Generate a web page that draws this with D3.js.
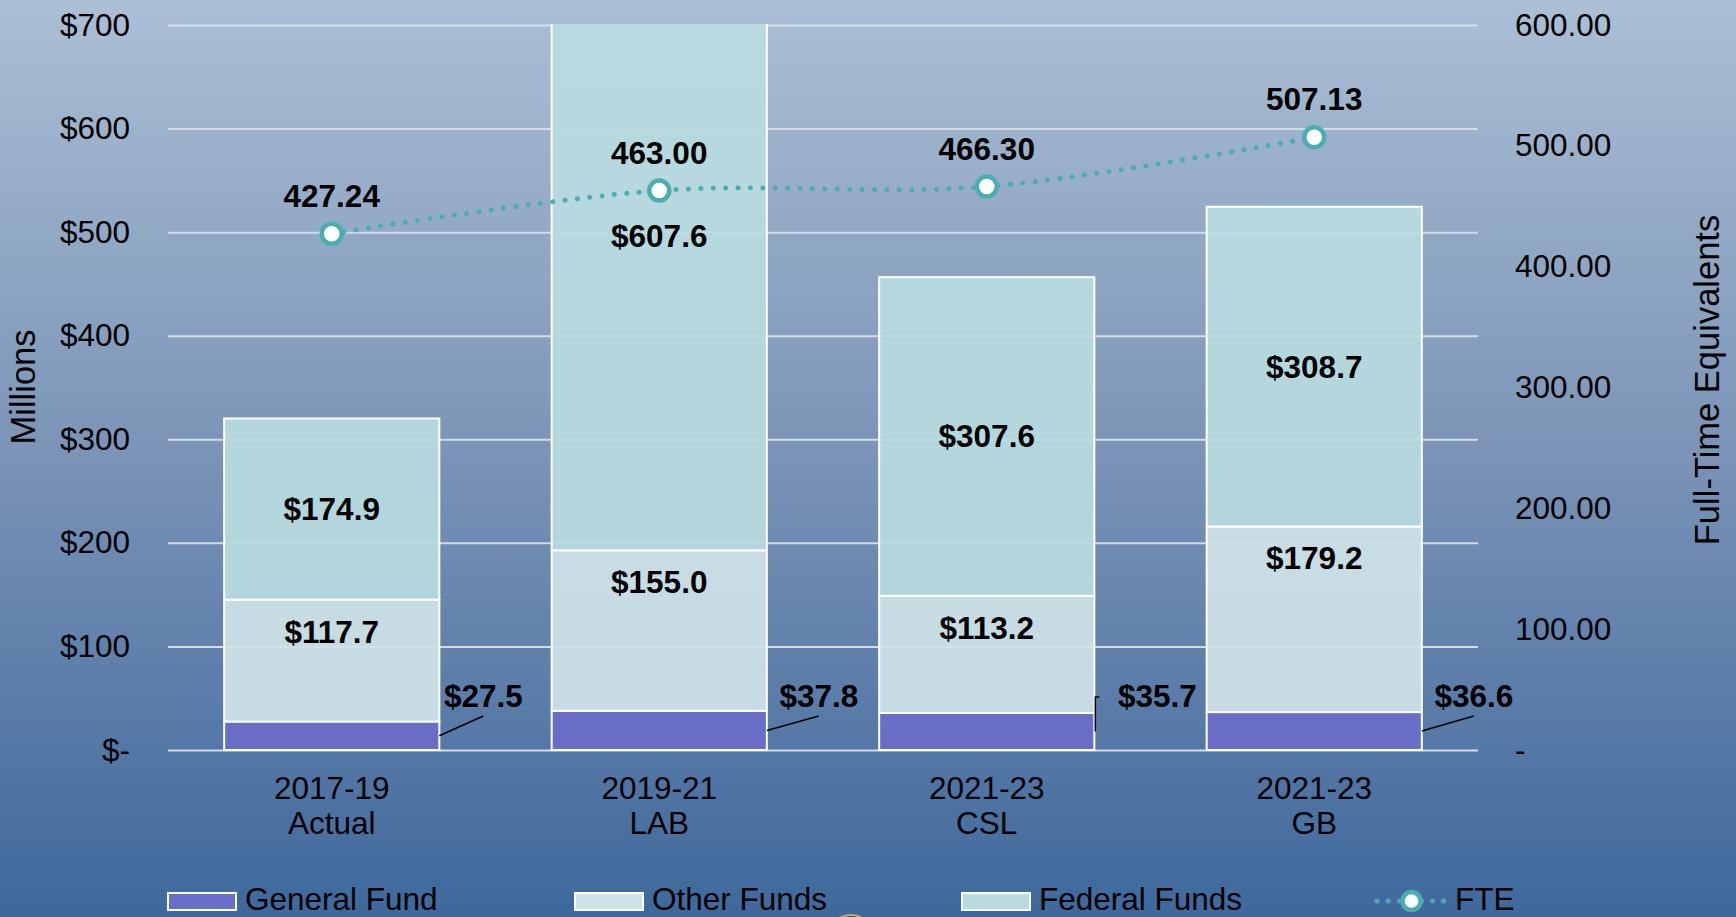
<!DOCTYPE html>
<html>
<head>
<meta charset="utf-8">
<script src="https://cdn.jsdelivr.net/npm/d3@7"></script>
<style>
  html, body { margin: 0; padding: 0; overflow: hidden; }
  svg { display: block; font-family: "Liberation Sans", Arial, sans-serif; }
</style>
</head>
<body>
<div id="chart"></div>
<script>
// data
var categories = ["2017-19|Actual", "2019-21|LAB", "2021-23|CSL", "2021-23|GB"];
var generalFund = [27.5, 37.8, 35.7, 36.6];
var otherFunds = [117.7, 155.0, 113.2, 179.2];
var federalFunds = [174.9, 607.6, 307.6, 308.7];
var fte = [427.24, 463.00, 466.30, 507.13];
var moneyTicks = [0, 100, 200, 300, 400, 500, 600, 700];
var fteTicks = [0, 100, 200, 300, 400, 500, 600];
var seriesNames = ["General Fund", "Other Funds", "Federal Funds"];

var W = 1736, H = 917;
var colors = { gf: "#6a6dc8", of: "#cfe2e7", ff: "#b8dbe0", fte: "#4aaeb1" };
var fs = 31.5;

var svg = d3.select('#chart').append('svg')
    .attr('width', W)
    .attr('height', H);

// background gradient
var defs = svg.append('defs');
var grad = defs.append('linearGradient')
    .attr('id', 'bg').attr('x1', 0).attr('y1', 0).attr('x2', 0).attr('y2', 1);
grad.append('stop').attr('offset', 0).attr('stop-color', '#abbfd5');
grad.append('stop').attr('offset', 0.5).attr('stop-color', '#7a93b6');
grad.append('stop').attr('offset', 1).attr('stop-color', '#3e689c');
svg.append('rect').attr('width', W).attr('height', H).attr('fill', 'url(#bg)');

// scales
var x = d3.scaleBand().domain(categories).range([168, 1478])
    .paddingInner(0.343).paddingOuter(0.1715);
var y = d3.scaleLinear().domain([0, 700]).range([750, 25]);
var y2 = d3.scaleLinear().domain([0, 600]).range([750, 25]);

defs.append('clipPath').attr('id', 'plot')
    .append('rect').attr('x', 0).attr('y', 24).attr('width', W).attr('height', 740);

// gridlines
var grid = svg.append('g').attr('transform', 'translate(168,0)')
    .call(d3.axisLeft(y).tickValues(moneyTicks).tickSize(-1310).tickFormat(''));
grid.select('.domain').remove();
grid.selectAll('line').attr('stroke', '#d6dbe2').attr('stroke-width', 2);

// left axis labels
var yAxis = svg.append('g').attr('transform', 'translate(168,0)')
    .call(d3.axisLeft(y).tickValues(moneyTicks).tickSize(0).tickPadding(38)
        .tickFormat(function (d) { return d === 0 ? '$-' : '$' + d; }));
yAxis.select('.domain').remove();
yAxis.selectAll('text').attr('font-size', fs).attr('fill', '#000')
    .attr('font-family', '"Liberation Sans", Arial, sans-serif');

// right axis labels
var yAxis2 = svg.append('g').attr('transform', 'translate(1478,0)')
    .call(d3.axisRight(y2).tickValues(fteTicks).tickSize(0).tickPadding(37)
        .tickFormat(function (d) { return d === 0 ? '-' : d3.format('.2f')(d); }));
yAxis2.select('.domain').remove();
yAxis2.selectAll('text').attr('font-size', fs).attr('fill', '#000')
    .attr('font-family', '"Liberation Sans", Arial, sans-serif');

// axis titles
svg.append('text')
    .attr('transform', 'translate(35,387) rotate(-90)')
    .attr('text-anchor', 'middle')
    .attr('font-size', 34.5)
    .text('Millions');
svg.append('text')
    .attr('transform', 'translate(1719,380) rotate(-90)')
    .attr('text-anchor', 'middle')
    .attr('font-size', 34.5)
    .text('Full-Time Equivalents');

// category labels
var xAxis = svg.append('g').attr('transform', 'translate(0,750)')
    .call(d3.axisBottom(x).tickSize(0).tickFormat(''));
xAxis.select('.domain').remove();
xAxis.selectAll('.tick').each(function (d) {
    var parts = d.split('|');
    var t = d3.select(this).append('text')
        .attr('text-anchor', 'middle')
        .attr('fill', '#000')
        .attr('font-size', fs)
        .attr('font-family', '"Liberation Sans", Arial, sans-serif');
    t.append('tspan').attr('x', 0).attr('y', 49).text(parts[0]);
    t.append('tspan').attr('x', 0).attr('y', 84).text(parts[1]);
});

// stacked bars
var rows = categories.map(function (c, i) {
    return { cat: c, gf: generalFund[i], of: otherFunds[i], ff: federalFunds[i] };
});
var stacked = d3.stack().keys(['gf', 'of', 'ff'])(rows);

var bars = svg.append('g').attr('clip-path', 'url(#plot)');
bars.selectAll('g').data(stacked).enter().append('g')
    .attr('fill', function (d) { return colors[d.key]; })
    .selectAll('rect').data(function (d) { return d; })
    .enter().append('rect')
    .attr('x', function (d) { return x(d.data.cat); })
    .attr('y', function (d) { return y(d[1]); })
    .attr('width', x.bandwidth())
    .attr('height', function (d) { return y(d[0]) - y(d[1]); })
    .attr('fill-opacity', 0.93)
    .attr('stroke', '#ffffff')
    .attr('stroke-width', 2);

// bar labels
var fmt = function (v) { return '$' + d3.format('.1f')(v); };
var labels = svg.append('g').attr('font-weight', 'bold').attr('font-size', fs)
    .attr('text-anchor', 'middle');

// federal funds - centred on the (unclipped) segment
labels.selectAll('.ffl').data(stacked[2]).enter().append('text')
    .attr('x', function (d) { return x(d.data.cat) + x.bandwidth() / 2; })
    .attr('y', function (d) { return (y(d[0]) + y(d[1])) / 2 + 11; })
    .text(function (d) { return fmt(d.data.ff); });

// other funds - inside end
labels.selectAll('.ofl').data(stacked[1]).enter().append('text')
    .attr('x', function (d) { return x(d.data.cat) + x.bandwidth() / 2; })
    .attr('y', function (d) { return y(d[1]) + 43; })
    .text(function (d) { return fmt(d.data.of); });

// general fund - outside with leader lines
var gfDx = [44, 52, 63, 52];
var leaders = svg.append('g').attr('stroke', '#000').attr('stroke-width', 1.5).attr('fill', 'none');
stacked[0].forEach(function (d, i) {
    var right = x(d.data.cat) + x.bandwidth();
    var mid = (y(d[0]) + y(d[1])) / 2;
    var cx = right + gfDx[i];
    if (i === 2) {
        leaders.append('path').attr('d', 'M' + (right + 1) + ',' + mid + 'V697H' + (right + 5));
    } else {
        leaders.append('path').attr('d', 'M' + right + ',' + mid + 'L' + cx + ',716');
    }
    labels.append('text').attr('x', cx).attr('y', 707).text(fmt(d.data.gf));
});

// FTE line
var fx = function (d, i) { return x(categories[i]) + x.bandwidth() / 2; };
svg.append('path')
    .attr('d', d3.line().x(fx).y(function (d) { return y2(d); })
        .curve(d3.curveCatmullRom.alpha(0.5))(fte))
    .attr('fill', 'none')
    .attr('stroke', colors.fte)
    .attr('stroke-width', 5)
    .attr('stroke-linecap', 'round')
    .attr('stroke-dasharray', '0.1 12.3');

svg.append('g').selectAll('circle').data(fte).enter().append('circle')
    .attr('cx', fx)
    .attr('cy', function (d) { return y2(d); })
    .attr('r', 10)
    .attr('fill', '#ffffff')
    .attr('stroke', colors.fte)
    .attr('stroke-width', 4.5);

svg.append('g').attr('font-weight', 'bold').attr('font-size', fs).attr('text-anchor', 'middle')
    .selectAll('text').data(fte).enter().append('text')
    .attr('x', fx)
    .attr('y', function (d) { return y2(d) - 27; })
    .text(function (d) { return d3.format('.2f')(d); });

// legend
var legendX = [168, 575, 962];
var legend = svg.append('g');
seriesNames.forEach(function (name, i) {
    legend.append('rect')
        .attr('x', legendX[i]).attr('y', 893).attr('width', 68).attr('height', 17)
        .attr('fill', colors[['gf', 'of', 'ff'][i]])
        .attr('stroke', '#ffffff').attr('stroke-width', 2);
    legend.append('text')
        .attr('x', legendX[i] + 77).attr('y', 910)
        .attr('font-size', fs)
        .text(name);
});
legend.append('line')
    .attr('x1', 1377).attr('x2', 1445).attr('y1', 901).attr('y2', 901)
    .attr('stroke', colors.fte).attr('stroke-width', 5)
    .attr('stroke-linecap', 'round').attr('stroke-dasharray', '0.1 11');
legend.append('circle')
    .attr('cx', 1411.5).attr('cy', 901).attr('r', 9)
    .attr('fill', '#ffffff').attr('stroke', colors.fte).attr('stroke-width', 4.5);
legend.append('text').attr('x', 1455).attr('y', 910).attr('font-size', fs).text('FTE');

// seal peeking in at the bottom edge
svg.append('circle')
    .attr('cx', 851).attr('cy', 937).attr('r', 22)
    .attr('fill', '#3d4f5c').attr('stroke', '#c9b26a').attr('stroke-width', 2);
</script>
</body>
</html>
